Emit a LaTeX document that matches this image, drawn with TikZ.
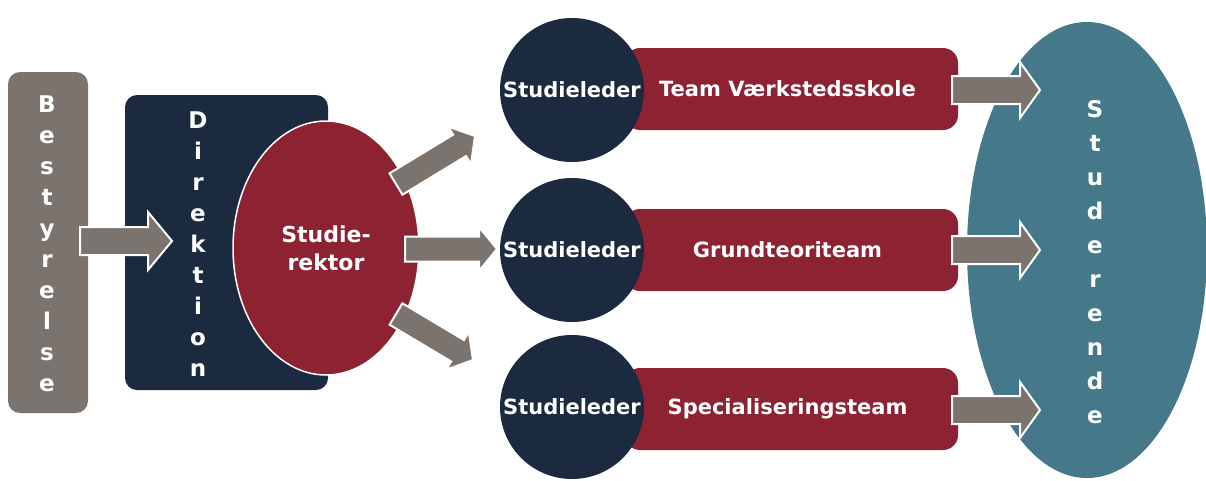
\documentclass[tikz,border=0pt]{standalone}
\usepackage{fontspec}
\setmainfont{DejaVu Sans}
\usetikzlibrary{shapes.geometric,calc}
\definecolor{cgray}{HTML}{7B736D}
\definecolor{cnavy}{HTML}{1B2A3F}
\definecolor{cred}{HTML}{8C2232}
\definecolor{cteal}{HTML}{45798A}
\newcommand\blockarrow[5]{% from, to, shaft half, head half, head length
  \path[arrowsty] let \p1=(#1), \p2=(#2), \n1={atan2(\y2-\y1,\x2-\x1)}, \n2={veclen(\x2-\x1,\y2-\y1)} in
   {[shift={(\p1)}, rotate=\n1]
   (0,-#3) -- (\n2-#5,-#3) -- (\n2-#5,-#4) -- (\n2,0) -- (\n2-#5,#4) -- (\n2-#5,#3) -- (0,#3) -- cycle};}
\begin{document}
\begin{tikzpicture}[x=1pt,y=-1pt,
  arrowsty/.style={fill=cgray, draw=white, line width=2pt, line join=miter},
  vword/.style={text=white, font=\bfseries\fontsize{23}{31}\selectfont, align=center, inner sep=0pt},
  boxlbl/.style={text=white, font=\bfseries\fontsize{21}{24}\selectfont},
  bar/.style={rectangle, rounded corners=15pt, fill=cred, minimum width=333pt, minimum height=82pt, boxlbl},
  lead/.style={circle, fill=cnavy, minimum size=144pt, inner sep=0pt, boxlbl}]
\useasboundingbox (0,0) rectangle (1206,480);
% Studerende
\node[ellipse, fill=cteal, minimum width=240pt, minimum height=456pt] (stud) at (1087,250) {};
\node[vword, font=\bfseries\fontsize{23}{34}\selectfont] (studtxt) at (1095,262) {S\\t\\u\\d\\e\\r\\e\\n\\d\\e};
% Bestyrelse
\node[rectangle, rounded corners=12pt, fill=cgray, minimum width=80pt, minimum height=341pt] (best) at (48,242.5) {};
\node[vword] (besttxt) at (47,244) {B\\e\\s\\t\\y\\r\\e\\l\\s\\e};
% Direktion
\node[rectangle, rounded corners=12pt, fill=cnavy, minimum width=203pt, minimum height=295pt] (dir) at (226.5,242.5) {};
\node[vword] (dirtxt) at (198,244) {D\\i\\r\\e\\k\\t\\i\\o\\n};
% Studierektor
\node[ellipse, fill=cred, draw=white, line width=1.5pt, minimum width=186pt, minimum height=254pt, boxlbl, align=center, font=\bfseries\fontsize{22}{28}\selectfont] (rekt) at (326,248) {Studie-\\rektor};
% bars
\node[bar] (b1) at (791.5,89) {\hspace*{-8pt}Team Værkstedsskole};
\node[bar] (b2) at (791.5,250) {\hspace*{-8pt}Grundteoriteam};
\node[bar] (b3) at (791.5,409) {\hspace*{-8pt}Specialiseringsteam};
% circles
\node[lead] (l1) at (572,90) {Studieleder};
\node[lead] (l2) at (572,250) {Studieleder};
\node[lead] (l3) at (572,407) {Studieleder};
% arrow end points
\coordinate (a0s) at (80,241);   \coordinate (a0e) at (172,241);
\coordinate (a1s) at (396,184);  \coordinate (a1e) at (475,136);
\coordinate (a2s) at (405,249);  \coordinate (a2e) at (497,249);
\coordinate (a3s) at (396,314);  \coordinate (a3e) at (473,360);
\coordinate (r1s) at (952,90);   \coordinate (r1e) at (1040,90);
\coordinate (r2s) at (952,250);  \coordinate (r2e) at (1040,250);
\coordinate (r3s) at (952,410);  \coordinate (r3e) at (1040,410);
\blockarrow{a0s}{a0e}{14}{29}{24}
\blockarrow{a1s}{a1e}{12.5}{22}{18}
\blockarrow{a2s}{a2e}{12.5}{22}{18}
\blockarrow{a3s}{a3e}{12.5}{22}{18}
\blockarrow{r1s}{r1e}{14}{28}{20}
\blockarrow{r2s}{r2e}{14}{28}{20}
\blockarrow{r3s}{r3e}{14}{28}{20}
\end{tikzpicture}
\end{document}
